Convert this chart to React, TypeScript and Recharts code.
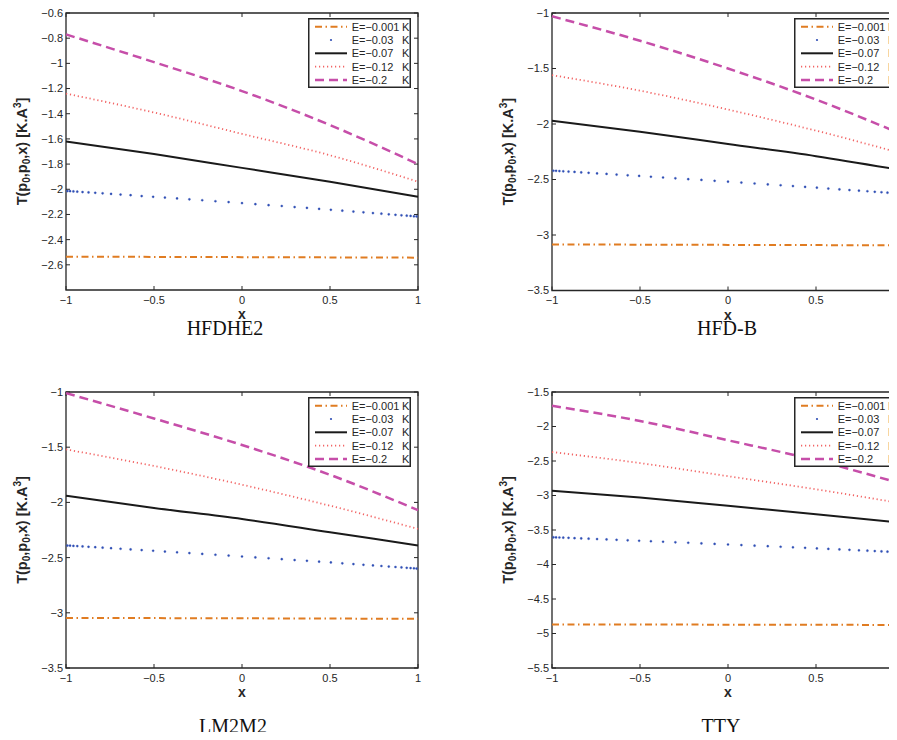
import React from "react";
import { LineChart, Line, XAxis, YAxis, Legend, ReferenceArea, ReferenceLine } from "recharts";

// T(p0,p0,x) against x for five binding energies, one panel per potential.

const X_ANCHORS = [-1, -0.5, 0, 0.5, 1];
const X_TICKS = [-1, -0.5, 0, 0.5, 1];

// sample nodes of the E=-0.03 K marker series
const DOT_X = [
  -0.992, -0.977, -0.958, -0.936, -0.906, -0.872, -0.834, -0.792, -0.744, -0.69,
  -0.633, -0.57, -0.505, -0.438, -0.369, -0.299, -0.226, -0.151, -0.076, 0,
  0.076, 0.151, 0.226, 0.299, 0.369, 0.438, 0.505, 0.57, 0.633, 0.69,
  0.744, 0.792, 0.834, 0.872, 0.906, 0.936, 0.958, 0.977, 0.992,
];

const SERIES_NAMES = ["E=\u22120.001", "E=\u22120.03", "E=\u22120.07", "E=\u22120.12", "E=\u22120.2"];

// HFDHE2
const HFDHE2_E0001 = [-2.535, -2.537, -2.539, -2.541, -2.543];
const HFDHE2_E003 = [
  -2.014, -2.015, -2.017, -2.019, -2.022, -2.025, -2.028, -2.032, -2.037, -2.042,
  -2.047, -2.054, -2.06, -2.066, -2.073, -2.08, -2.087, -2.095, -2.102, -2.11,
  -2.118, -2.126, -2.133, -2.141, -2.148, -2.156, -2.163, -2.17, -2.177, -2.183,
  -2.189, -2.194, -2.199, -2.203, -2.207, -2.21, -2.212, -2.215, -2.216,
];
const HFDHE2_E007 = [-1.62, -1.72, -1.83, -1.94, -2.06];
const HFDHE2_E012 = [-1.24, -1.39, -1.56, -1.73, -1.94];
const HFDHE2_E02 = [-0.77, -0.99, -1.22, -1.49, -1.8];

// HFD-B
const HFDB_E0001 = [-3.085, -3.087, -3.089, -3.091, -3.093];
const HFDB_E003 = [
  -2.421, -2.422, -2.424, -2.426, -2.429, -2.432, -2.436, -2.44, -2.445, -2.45,
  -2.456, -2.462, -2.468, -2.475, -2.482, -2.489, -2.497, -2.504, -2.512, -2.52,
  -2.528, -2.536, -2.544, -2.552, -2.559, -2.567, -2.574, -2.582, -2.589, -2.595,
  -2.601, -2.606, -2.611, -2.615, -2.619, -2.623, -2.625, -2.627, -2.629,
];
const HFDB_E007 = [-1.97, -2.07, -2.18, -2.29, -2.42];
const HFDB_E012 = [-1.56, -1.7, -1.87, -2.06, -2.27];
const HFDB_E02 = [-1.03, -1.25, -1.5, -1.78, -2.1];

// LM2M2
const LM2M2_E0001 = [-3.046, -3.048, -3.05, -3.052, -3.055];
const LM2M2_E003 = [
  -2.391, -2.392, -2.394, -2.396, -2.399, -2.402, -2.406, -2.41, -2.415, -2.42,
  -2.426, -2.432, -2.438, -2.445, -2.452, -2.459, -2.467, -2.474, -2.482, -2.49,
  -2.498, -2.506, -2.514, -2.522, -2.529, -2.537, -2.544, -2.552, -2.559, -2.565,
  -2.571, -2.576, -2.581, -2.585, -2.589, -2.593, -2.595, -2.597, -2.599,
];
const LM2M2_E007 = [-1.94, -2.05, -2.15, -2.27, -2.39];
const LM2M2_E012 = [-1.52, -1.67, -1.84, -2.03, -2.24];
const LM2M2_E02 = [-1.01, -1.24, -1.48, -1.75, -2.07];

// TTY
const TTY_E0001 = [-4.868, -4.87, -4.872, -4.874, -4.876];
const TTY_E003 = [
  -3.606, -3.607, -3.609, -3.611, -3.614, -3.618, -3.622, -3.626, -3.631, -3.637,
  -3.642, -3.649, -3.656, -3.663, -3.67, -3.678, -3.685, -3.694, -3.702, -3.71,
  -3.718, -3.727, -3.735, -3.743, -3.751, -3.759, -3.767, -3.774, -3.782, -3.788,
  -3.795, -3.8, -3.805, -3.81, -3.814, -3.817, -3.82, -3.822, -3.824,
];
const TTY_E007 = [-2.93, -3.03, -3.15, -3.27, -3.4];
const TTY_E012 = [-2.37, -2.53, -2.72, -2.91, -3.12];
const TTY_E02 = [-1.7, -1.92, -2.2, -2.49, -2.84];

const TICKS_HFDHE2 = [-2.6, -2.4, -2.2, -2, -1.8, -1.6, -1.4, -1.2, -1, -0.8, -0.6];
const TICKS_HFDB = [-3.5, -3, -2.5, -2, -1.5, -1];
const TICKS_LM2M2 = [-3.5, -3, -2.5, -2, -1.5, -1];
const TICKS_TTY = [-5.5, -5, -4.5, -4, -3.5, -3, -2.5, -2, -1.5];

const ORANGE = "#e07c22";
const BLUE = "#2f4fb5";
const BLACK = "#1a1a1a";
const PINK = "#f26464";
const MAGENTA = "#c64ea9";
const AXIS = "#262626";
const FONT = "'Liberation Sans', Arial, sans-serif";
const TICK_LEN = 4; // inward tick length, px

type Row = { x: number; e0001?: number; e003?: number; e007?: number; e012?: number; e02?: number };

// one table per panel: curve anchors and marker nodes merged on x
function buildRows(values: number[][]): Row[] {
  const byX = new Map<number, Row>();
  const row = (x: number) => {
    if (!byX.has(x)) byX.set(x, { x });
    return byX.get(x)!;
  };
  X_ANCHORS.forEach((x, i) => {
    const r = row(x);
    r.e0001 = values[0][i];
    r.e007 = values[2][i];
    r.e012 = values[3][i];
    r.e02 = values[4][i];
  });
  DOT_X.forEach((x, i) => {
    row(x).e003 = values[1][i];
  });
  return Array.from(byX.values()).sort((a, b) => a.x - b.x);
}

interface Panel {
  title: string;
  left: number;
  width: number;
  height: number;
  margin: { top: number; right: number; bottom: number; left: number };
  yDomain: [number, number];
  yTicks: number[];
  xTicks: number[];
  values: number[][];
  captionX: number;
}

const Y_AXIS_W = 66;
const X_AXIS_H = 30;

// right-hand panels run past the page edge, so their plot area is cut at x=897
const PANELS: Panel[] = [
  {
    title: "HFDHE2", left: 0, width: 450, height: 330,
    margin: { top: 13, right: 32, bottom: 10, left: 0 },
    yDomain: [-2.8, -0.6], yTicks: TICKS_HFDHE2, xTicks: X_TICKS,
    values: [HFDHE2_E0001, HFDHE2_E003, HFDHE2_E007, HFDHE2_E012, HFDHE2_E02],
    captionX: 225,
  },
  {
    title: "HFD-B", left: 450, width: 447, height: 330,
    margin: { top: 13, right: -7, bottom: 9.5, left: 36 },
    yDomain: [-3.5, -1], yTicks: TICKS_HFDB, xTicks: X_TICKS.slice(0, 4),
    values: [HFDB_E0001, HFDB_E003, HFDB_E007, HFDB_E012, HFDB_E02],
    captionX: 727,
  },
  {
    title: "LM2M2", left: 0, width: 450, height: 350,
    margin: { top: 32, right: 32, bottom: 12, left: 0 },
    yDomain: [-3.5, -1], yTicks: TICKS_LM2M2, xTicks: X_TICKS,
    values: [LM2M2_E0001, LM2M2_E003, LM2M2_E007, LM2M2_E012, LM2M2_E02],
    captionX: 233,
  },
  {
    title: "TTY", left: 450, width: 447, height: 350,
    margin: { top: 32, right: -7, bottom: 12, left: 36 },
    yDomain: [-5.5, -1.5], yTicks: TICKS_TTY, xTicks: X_TICKS.slice(0, 4),
    values: [TTY_E0001, TTY_E003, TTY_E007, TTY_E012, TTY_E02],
    captionX: 721,
  },
];

const fmt = (v: number) => (v < 0 ? "\u2212" + String(-v) : String(v));

const tickStyle = { fill: AXIS, fontSize: 11, fontFamily: FONT };

function YLabel(props: any) {
  const vb = props.viewBox || {};
  const cx = vb.x + vb.width - 44;
  const cy = vb.y + vb.height / 2;
  return (
    <text
      transform={`translate(${cx + 5},${cy}) rotate(-90)`}
      textAnchor="middle"
      fontFamily={FONT}
      fontWeight="bold"
      fontSize={14.5}
      fill={AXIS}
    >
      T(p<tspan fontSize={10} dy={3}>0</tspan>
      <tspan dy={-3}>,p</tspan>
      <tspan fontSize={10} dy={3}>0</tspan>
      <tspan dy={-3}>,x) [K.A</tspan>
      <tspan fontSize={10} dy={-6}>3</tspan>
      <tspan dy={6}>]</tspan>
    </text>
  );
}

function XLabel(props: any) {
  const vb = props.viewBox || {};
  return (
    <text
      x={vb.x + vb.width / 2}
      y={vb.y + 29}
      textAnchor="middle"
      fontFamily={FONT}
      fontWeight="bold"
      fontSize={14}
      fill={AXIS}
    >
      x
    </text>
  );
}

// legend box drawn in the top right corner of each panel
function LegendBox() {
  const rows = [8.7, 22, 35.3, 48.7, 62];
  return (
    <svg width={103} height={70} style={{ display: "block" }}>
      <rect x={0.75} y={0.75} width={101.5} height={68.5} fill="#fff" stroke={AXIS} strokeWidth={1.5} />
      {SERIES_NAMES.map((name, i) => {
        const y = rows[i];
        let sample: React.ReactNode = null;
        if (i === 0)
          sample = <line x1={7} x2={39} y1={y} y2={y} stroke={ORANGE} strokeWidth={2} strokeDasharray="7 3.5 1.5 3.5" />;
        if (i === 1) sample = <circle cx={23} cy={y} r={1.1} fill={BLUE} />;
        if (i === 2) sample = <line x1={7} x2={39} y1={y} y2={y} stroke={BLACK} strokeWidth={2} />;
        if (i === 3)
          sample = <line x1={7} x2={39} y1={y} y2={y} stroke={PINK} strokeWidth={1.8} strokeDasharray="1.2 2.8" />;
        if (i === 4)
          sample = <line x1={7} x2={39} y1={y} y2={y} stroke={MAGENTA} strokeWidth={2.5} strokeDasharray="9 5" />;
        return (
          <g key={name}>
            {sample}
            <text x={43.7} y={y + 4} fontFamily={FONT} fontSize={11} fill={AXIS}>{name}</text>
            <text x={94} y={y + 4} fontFamily={FONT} fontSize={11} fill={AXIS}>K</text>
          </g>
        );
      })}
    </svg>
  );
}

function PanelChart({ p }: { p: Panel }) {
  const rows = buildRows(p.values);
  const [yMin, yMax] = p.yDomain;
  const plotLeft = p.margin.left + Y_AXIS_W;
  const plotRight = p.width - p.margin.right;
  const plotH = p.height - p.margin.top - p.margin.bottom - X_AXIS_H;
  // tick length converted to data units on each axis
  const dx = (TICK_LEN * 2) / (plotRight - plotLeft);
  const dy = (TICK_LEN * (yMax - yMin)) / plotH;
  return (
    <div style={{ width: p.width, height: p.height, flexShrink: 0 }}>
      <LineChart width={p.width} height={p.height} margin={p.margin} data={rows}>
        <XAxis
          type="number"
          dataKey="x"
          domain={[-1, 1]}
          ticks={p.xTicks}
          interval={0}
          height={X_AXIS_H}
          tickFormatter={fmt}
          tick={tickStyle}
          tickSize={-TICK_LEN}
          tickMargin={10}
          axisLine={false}
          tickLine={false}
          label={{ content: XLabel }}
        />
        <YAxis
          type="number"
          domain={p.yDomain}
          ticks={p.yTicks}
          interval={0}
          width={Y_AXIS_W}
          tickFormatter={fmt}
          tick={tickStyle}
          tickSize={-TICK_LEN}
          tickMargin={7}
          axisLine={false}
          tickLine={false}
          label={{ content: YLabel }}
        />
        {/* plot frame */}
        <ReferenceArea x1={-1} x2={1} y1={yMin} y2={yMax} fill="none" stroke={AXIS} strokeWidth={1.3} />
        {/* inward ticks on all four sides */}
        {p.xTicks.map((t) => (
          <ReferenceLine key={"xb" + t} stroke={AXIS} segment={[{ x: t, y: yMin }, { x: t, y: yMin + dy }]} />
        ))}
        {p.xTicks.map((t) => (
          <ReferenceLine key={"xt" + t} stroke={AXIS} segment={[{ x: t, y: yMax }, { x: t, y: yMax - dy }]} />
        ))}
        {p.yTicks.map((t) => (
          <ReferenceLine key={"yl" + t} stroke={AXIS} segment={[{ x: -1, y: t }, { x: -1 + dx, y: t }]} />
        ))}
        {p.yTicks.map((t) => (
          <ReferenceLine key={"yr" + t} stroke={AXIS} segment={[{ x: 1, y: t }, { x: 1 - dx, y: t }]} />
        ))}
        <Legend
          layout="vertical"
          align="center"
          verticalAlign="middle"
          wrapperStyle={{ top: p.margin.top + 5, left: plotRight - 110, width: 103, height: 70 }}
          content={() => <LegendBox />}
        />
        <Line
          name={SERIES_NAMES[0]}
          dataKey="e0001"
          type="linear"
          connectNulls
          stroke={ORANGE}
          strokeWidth={2}
          strokeDasharray="7 3.5 1.5 3.5"
          dot={false}
          activeDot={false}
          isAnimationActive={false}
        />
        <Line
          name={SERIES_NAMES[1]}
          dataKey="e003"
          type="linear"
          stroke="none"
          strokeWidth={0}
          dot={{ r: 1.1, fill: BLUE, stroke: BLUE, strokeWidth: 0.3 }}
          activeDot={false}
          isAnimationActive={false}
        />
        <Line
          name={SERIES_NAMES[2]}
          dataKey="e007"
          type="monotone"
          connectNulls
          stroke={BLACK}
          strokeWidth={2}
          dot={false}
          activeDot={false}
          isAnimationActive={false}
        />
        <Line
          name={SERIES_NAMES[3]}
          dataKey="e012"
          type="monotone"
          connectNulls
          stroke={PINK}
          strokeWidth={1.8}
          strokeDasharray="1.2 2.8"
          dot={false}
          activeDot={false}
          isAnimationActive={false}
        />
        <Line
          name={SERIES_NAMES[4]}
          dataKey="e02"
          type="monotone"
          connectNulls
          stroke={MAGENTA}
          strokeWidth={2.5}
          strokeDasharray="9 5"
          dot={false}
          activeDot={false}
          isAnimationActive={false}
        />
      </LineChart>
    </div>
  );
}

function CaptionRow({ panels, marginTop }: { panels: Panel[]; marginTop: number }) {
  return (
    <div style={{ display: "flex", marginTop, height: 20 }}>
      {panels.map((p) => (
        <div key={p.title} style={{ width: p.width, flexShrink: 0 }}>
          <div
            style={{
              marginLeft: p.captionX - p.left - 100,
              width: 200,
              textAlign: "center",
              fontFamily: "'Liberation Serif', 'Times New Roman', serif",
              fontSize: 20,
              lineHeight: "20px",
              color: "#111",
              whiteSpace: "nowrap",
            }}
          >
            {p.title}
          </div>
        </div>
      ))}
    </div>
  );
}

export default function App() {
  const [hfdhe2, hfdb, lm2m2, tty] = PANELS;
  return (
    <div style={{ margin: -8, width: 897, height: 740, background: "#fff" }}>
      <div style={{ display: "flex" }}>
        <PanelChart p={hfdhe2} />
        <PanelChart p={hfdb} />
      </div>
      <CaptionRow panels={[hfdhe2, hfdb]} marginTop={-12} />
      <div style={{ height: 22 }} />
      <div style={{ display: "flex" }}>
        <PanelChart p={lm2m2} />
        <PanelChart p={tty} />
      </div>
      <CaptionRow panels={[lm2m2, tty]} marginTop={6} />
    </div>
  );
}
